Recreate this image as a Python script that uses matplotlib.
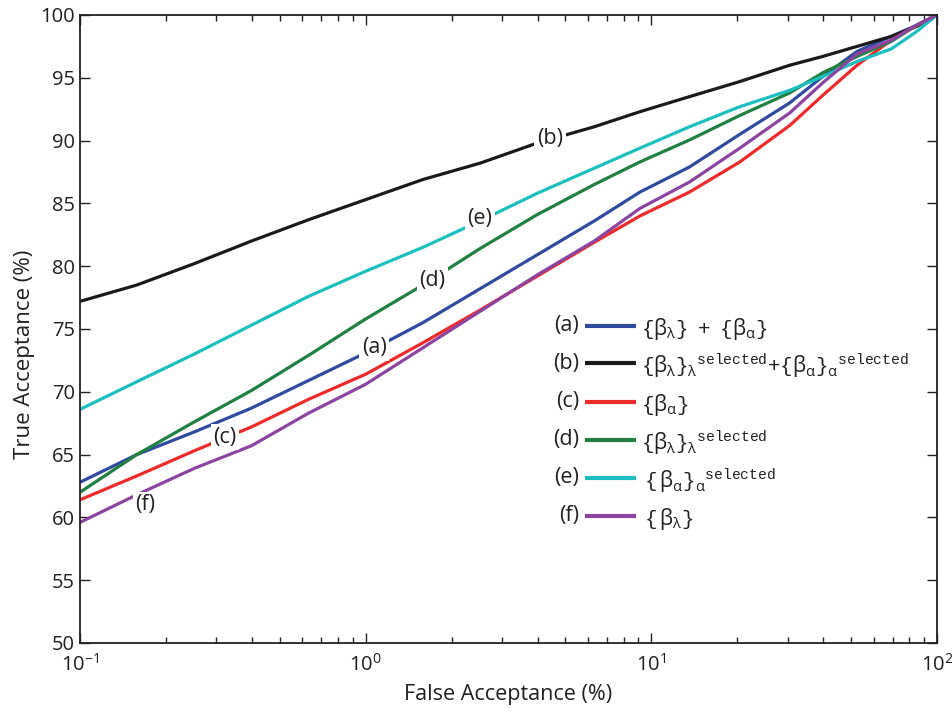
import numpy as np
import matplotlib
matplotlib.use("Agg")
import matplotlib.pyplot as plt
from matplotlib.ticker import LogLocator, NullFormatter, FixedLocator

plt.rcParams['font.family'] = ['Open Sans', 'DejaVu Sans']
plt.rcParams['mathtext.fontset'] = 'custom'
plt.rcParams['mathtext.rm'] = 'Open Sans'
plt.rcParams['mathtext.it'] = 'Open Sans:italic'
plt.rcParams['mathtext.tt'] = 'Liberation Mono'

# ---- data (False acceptance in %, read positions) ----
far = [0.1, 0.158, 0.251, 0.398, 0.631, 1.0, 1.585, 2.512, 3.981, 6.31,
       9.12, 13.6, 20.4, 30.5, 39.8, 52.5, 69.2, 85.1, 100.0]
ta_a = [62.8, 65.0, 66.8, 68.7, 70.9, 73.1, 75.5, 78.2, 80.9, 83.6,
        85.9, 87.9, 90.5, 93.0, 95.1, 97.1, 98.3, 99.2, 100.0]
ta_b = [77.2, 78.5, 80.2, 82.0, 83.7, 85.3, 86.9, 88.2, 89.8, 91.1,
        92.3, 93.5, 94.7, 96.0, 96.7, 97.5, 98.3, 99.1, 100.0]
ta_c = [61.4, 63.3, 65.3, 67.2, 69.4, 71.4, 73.9, 76.5, 79.2, 81.9,
        84.0, 85.9, 88.3, 91.2, 93.6, 96.0, 98.0, 99.2, 100.0]
ta_d = [62.0, 65.0, 67.6, 70.1, 72.9, 75.8, 78.5, 81.4, 84.1, 86.5,
        88.3, 90.05, 92.0, 93.8, 95.4, 96.7, 97.9, 99.2, 100.0]
ta_e = [68.6, 70.8, 73.0, 75.3, 77.6, 79.6, 81.5, 83.6, 85.8, 87.8,
        89.4, 91.1, 92.7, 94.0, 95.1, 96.3, 97.3, 98.7, 100.0]
ta_f = [59.6, 61.8, 63.9, 65.7, 68.3, 70.6, 73.5, 76.4, 79.3, 82.0,
        84.6, 86.7, 89.4, 92.2, 94.6, 96.9, 98.0, 99.2, 100.0]

tags = ['(a)', '(b)', '(c)', '(d)', '(e)', '(f)']
colors = ['#2f4b9f', '#1a1a1a', '#ee2b2b', '#1f8042', '#1cbfbf', '#8d44a0']
series = [ta_a, ta_b, ta_c, ta_d, ta_e, ta_f]
legend_labels = [
    r'$\mathtt{\{}\mathrm{\beta}_{\mathrm{\lambda}}\mathtt{\}\ +\ \{}\mathrm{\beta}_{\mathrm{\alpha}}\mathtt{\}}$',
    r'$\mathtt{\{}\mathrm{\beta}_{\mathrm{\lambda}}\mathtt{\}}_{\mathrm{\lambda}}{}^{\mathtt{selected}}\mathtt{+\{}\mathrm{\beta}_{\mathrm{\alpha}}\mathtt{\}}_{\mathrm{\alpha}}{}^{\mathtt{selected}}$',
    r'$\mathtt{\{}\mathrm{\beta}_{\mathrm{\alpha}}\mathtt{\}}$',
    r'$\mathtt{\{}\mathrm{\beta}_{\mathrm{\lambda}}\mathtt{\}}_{\mathrm{\lambda}}{}^{\mathtt{selected}}$',
    r'$\mathtt{\,\{\,}\mathrm{\beta}_{\mathrm{\alpha}}\mathtt{\}}_{\mathrm{\alpha}}{}^{\mathtt{selected}}$',
    r'$\mathtt{\,\{\,}\mathrm{\beta}_{\mathrm{\lambda}}\mathtt{\}}$',
]
# inline label positions (data coords)
label_pos = {'(a)': (1.07, 73.5), '(b)': (4.42, 90.2), '(c)': (0.322, 66.4),
             '(d)': (1.71, 78.9), '(e)': (2.51, 83.8), '(f)': (0.169, 61.0)}

fig = plt.figure(figsize=(9.52, 7.17), dpi=100)
ax = fig.add_axes([80/952, 1-643/717, (937-80)/952, (643-15)/717])

for ys, c in zip(series, colors):
    ax.plot(far, ys, color=c, lw=2.3, solid_capstyle='butt', solid_joinstyle='round', zorder=2)

for t in tags:
    x, y = label_pos[t]
    ax.text(x, y, t, fontsize=15.5, ha='center', va='center', color='#231f20', zorder=5,
            bbox=dict(boxstyle='square,pad=0.12', fc='white', ec='none'))

ax.set_xscale('log')
ax.set_xlim(0.1, 100)
ax.set_ylim(50, 100)
ax.set_yticks(np.arange(50, 101, 5))
ax.xaxis.set_major_locator(FixedLocator([0.1, 1, 10, 100]))
ax.xaxis.set_minor_locator(LogLocator(base=10, subs=np.arange(2, 10)))
ax.xaxis.set_minor_formatter(NullFormatter())
ax.tick_params(which='both', direction='in', top=True, right=True, colors='#231f20',
               labelsize=14.5, width=1.0)
ax.tick_params(which='major', length=7)
ax.tick_params(which='minor', length=4)
ax.tick_params(axis='x', which='major', pad=8)
for s in ax.spines.values():
    s.set_linewidth(1.3)
    s.set_color('#231f20')

ax.set_xlabel('False Acceptance (%)', fontsize=15.5, color='#231f20', labelpad=6)
ax.set_ylabel('True Acceptance (%)', fontsize=16, color='#231f20')
ax.yaxis.set_label_coords(-0.053, 0.46)

# manual legend (axes fraction coords)
def fx(px):
    return (px - 80) / (937 - 80)

def fy(py):
    return (643 - py) / (643 - 15)

rows = [326, 363, 402, 440, 478, 516]
for t, c, lab, py in zip(tags, colors, legend_labels, rows):
    ax.text(fx(579), fy(py), t, transform=ax.transAxes, fontsize=15.5, ha='right',
            va='center', color='#231f20')
    ax.plot([fx(585), fx(636)], [fy(py), fy(py)], transform=ax.transAxes, color=c,
            lw=3, solid_capstyle='butt', clip_on=False)
    ax.text(fx(641), fy(py) - 0.004, lab, transform=ax.transAxes, fontsize=15, ha='left',
            va='center', color='#231f20')

fig.savefig('out.png', dpi=100)
